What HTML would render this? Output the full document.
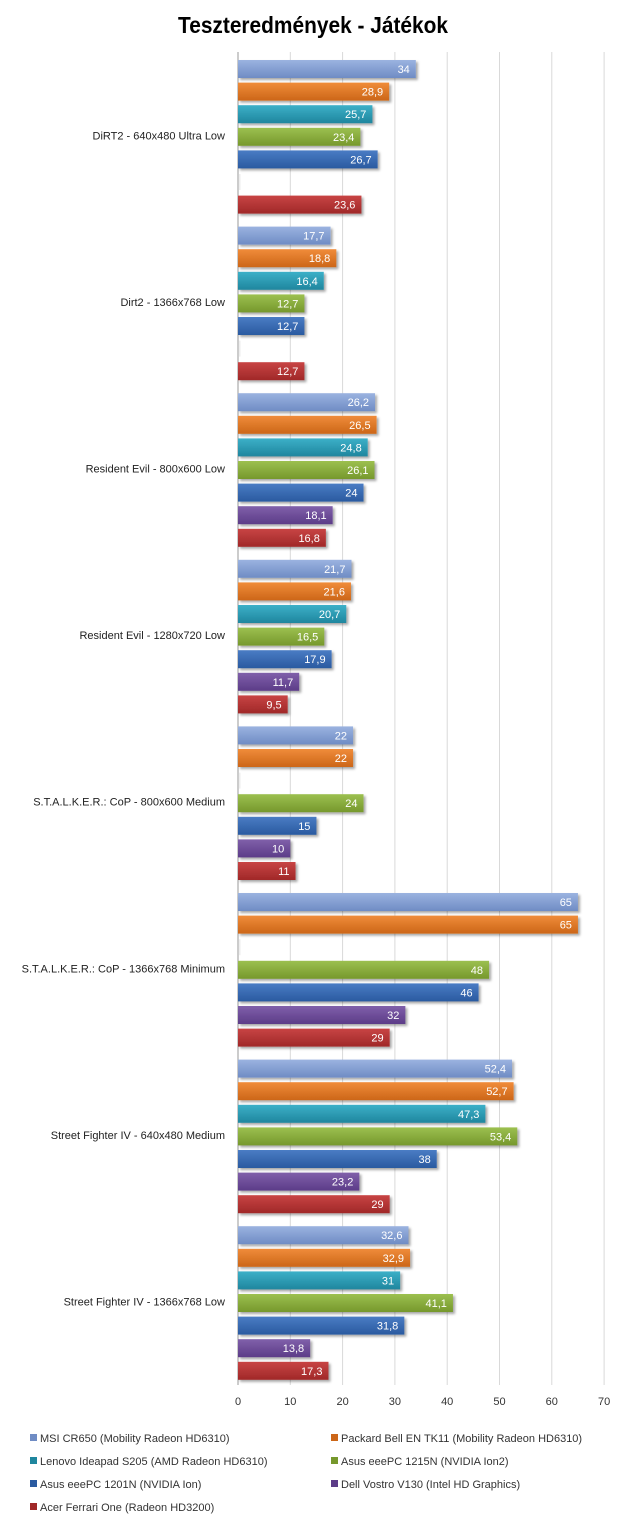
<!DOCTYPE html>
<html><head><meta charset="utf-8"><style>
html,body{margin:0;padding:0;background:#fff;width:625px;height:1529px;overflow:hidden}
svg text{font-family:"Liberation Sans","DejaVu Sans",sans-serif}
</style></head><body>
<svg id="c" width="625" height="1529" xmlns="http://www.w3.org/2000/svg">
<defs>
<filter id="sh" x="-5%" y="-20%" width="115%" height="160%"><feDropShadow dx="2" dy="2" stdDeviation="1.2" flood-color="#000" flood-opacity="0.35"/></filter>
</defs>
<text x="313" y="33" text-anchor="middle" font-size="23" font-weight="bold" fill="#000" textLength="270" lengthAdjust="spacingAndGlyphs">Teszteredmények - Játékok</text>
</svg>
<script>
var s=document.getElementById('c'),NS='http://www.w3.org/2000/svg';
function el(t,a,txt){var e=document.createElementNS(NS,t);for(var k in a)e.setAttribute(k,a[k]);if(txt!=null)e.textContent=txt;s.appendChild(e);return e;}
var X0=238,U=5.23,TOP=52,GH=166.6,BOT=1385;
var cols=[['#9bb3e0','#6f8cc4'],['#f08c3a','#cc6618'],['#3cb0c8','#1f869e'],['#9cc050','#76982c'],['#4a7cc4','#2a5aa0'],['#8060aa','#5c3c88'],['#c84444','#a02828']];
cols.forEach(function(c,i){var g=el('linearGradient',{id:'g'+i,x1:0,y1:0,x2:0,y2:1});
 var st=document.createElementNS(NS,'stop');st.setAttribute('offset','0');st.setAttribute('stop-color',c[0]);g.appendChild(st);
 st=document.createElementNS(NS,'stop');st.setAttribute('offset','1');st.setAttribute('stop-color',c[1]);g.appendChild(st);
 s.querySelector('defs').appendChild(g);});
for(var k=0;k<=7;k++){var x=X0+k*10*U;el('line',{x1:x,y1:TOP,x2:x,y2:BOT,stroke:k?'#d9d9d9':'#999','stroke-width':1});
 el('text',{x:x,y:1405,'text-anchor':'middle','font-size':11,fill:'#333'},String(k*10));}
var groups=[
['DiRT2 - 640x480 Ultra Low',[34,28.9,25.7,23.4,26.7,null,23.6]],
['Dirt2 - 1366x768 Low',[17.7,18.8,16.4,12.7,12.7,null,12.7]],
['Resident Evil - 800x600 Low',[26.2,26.5,24.8,26.1,24,18.1,16.8]],
['Resident Evil - 1280x720 Low',[21.7,21.6,20.7,16.5,17.9,11.7,9.5]],
['S.T.A.L.K.E.R.: CoP - 800x600 Medium',[22,22,null,24,15,10,11]],
['S.T.A.L.K.E.R.: CoP - 1366x768 Minimum',[65,65,null,48,46,32,29]],
['Street Fighter IV - 640x480 Medium',[52.4,52.7,47.3,53.4,38,23.2,29]],
['Street Fighter IV - 1366x768 Low',[32.6,32.9,31,41.1,31.8,13.8,17.3]]];
groups.forEach(function(g,gi){var y0=TOP+gi*GH;
 el('text',{x:225,y:y0+GH/2+4,'text-anchor':'end','font-size':11,fill:'#222'},g[0]);
 g[1].forEach(function(v,i){var t=y0+8+i*22.6;
  if(v==null){el('rect',{x:X0+1,y:t+1,width:1.5,height:16,fill:'#eee'});return;}
  var w=v*U;el('rect',{x:X0,y:t,width:w,height:18,fill:'url(#g'+i+')',filter:'url(#sh)'});
  el('text',{x:X0+w-6,y:t+13,'text-anchor':'end','font-size':11,fill:'#fff'},String(v).replace('.',','));});});
var leg=['MSI CR650 (Mobility Radeon HD6310)','Packard Bell EN TK11 (Mobility Radeon HD6310)','Lenovo Ideapad S205 (AMD Radeon HD6310)','Asus eeePC 1215N (NVIDIA Ion2)','Asus eeePC 1201N (NVIDIA Ion)','Dell Vostro V130 (Intel HD Graphics)','Acer Ferrari One (Radeon HD3200)'];
leg.forEach(function(l,i){var cx=i%2?331:30,cy=1439+Math.floor(i/2)*23;
 el('rect',{x:cx,y:cy-5,width:7,height:7,fill:cols[i][1]});
 el('text',{x:cx+10,y:cy+3,'font-size':11,fill:'#333'},l);});
</script>
</body></html>
